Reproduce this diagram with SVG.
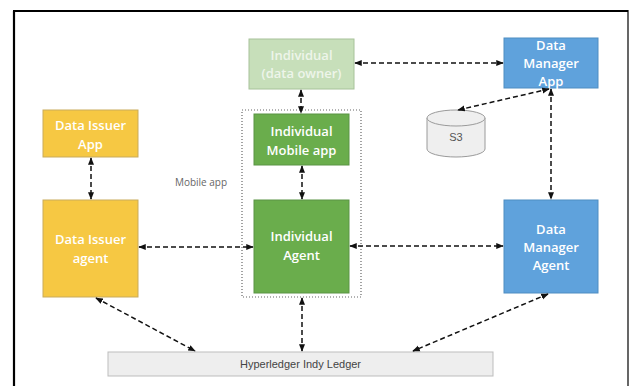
<svg xmlns="http://www.w3.org/2000/svg" width="629" height="386" viewBox="0 0 629 386">
  <defs>
    <marker id="ah" viewBox="0 0 10 10" refX="9" refY="5" markerWidth="5" markerHeight="5" orient="auto-start-reverse" markerUnits="strokeWidth">
      <path d="M0,1 L10,5 L0,9 z" fill="#111"/>
    </marker>
    <style>
      .frame { stroke: #000; fill: none; }
      .lbl { font-family: "Open Sans", "Liberation Sans", sans-serif; font-weight: 600; font-size: 13px; fill: #fff; text-anchor: middle; }
      .yellow { fill: #f6c843; stroke: #c9ab5c; stroke-width: 1; }
      .green { fill: #6aad4c; stroke: #5a9444; stroke-width: 1; }
      .pale { fill: #c7dfba; stroke: #a7c29a; stroke-width: 1; }
      .blue { fill: #5fa2dc; stroke: #4f8dc2; stroke-width: 1; }
      .conn line { stroke: #111; stroke-width: 1.5; stroke-dasharray: 5 3; marker-start: url(#ah); marker-end: url(#ah); fill: none; }
      .note { font-family: "Open Sans", "Liberation Sans", sans-serif; font-size: 10px; fill: #666; text-anchor: middle; }
    </style>
  </defs>

  <rect width="629" height="386" fill="#fff"/>

  <!-- page frame -->
  <line class="frame" x1="14" y1="11" x2="14" y2="386" stroke-width="2.2"/>
  <line class="frame" x1="13" y1="11" x2="628" y2="11" stroke-width="2"/>
  <line class="frame" x1="628" y1="10" x2="628" y2="386" stroke-width="1.2"/>

  <!-- mobile app boundary -->
  <g id="mobile-app-group">
    <rect x="242" y="110" width="119" height="187" fill="none" stroke="#666" stroke-width="1.2" stroke-dasharray="1 2"/>
    <text class="note" x="201" y="186">Mobile app</text>
  </g>

  <g id="data-owner">
    <rect class="pale" x="249" y="39" width="105" height="50"/>
    <text class="lbl" x="301.5" y="60" fill="#eef5ea" style="fill:#eef5ea">Individual</text>
    <text class="lbl" x="301.5" y="78" style="fill:#eef5ea">(data owner)</text>
  </g>

  <g id="data-manager-app">
    <rect class="blue" x="504" y="38" width="94" height="50"/>
    <text class="lbl" x="551" y="50">Data</text>
    <text class="lbl" x="551" y="68">Manager</text>
    <text class="lbl" x="551" y="86">App</text>
  </g>

  <g id="data-issuer-app">
    <rect class="yellow" x="43" y="110" width="95" height="47"/>
    <text class="lbl" x="90.5" y="130">Data Issuer</text>
    <text class="lbl" x="90.5" y="149">App</text>
  </g>

  <g id="individual-mobile-app">
    <rect class="green" x="254" y="114" width="95" height="51"/>
    <text class="lbl" x="301.5" y="136">Individual</text>
    <text class="lbl" x="301.5" y="155">Mobile app</text>
  </g>

  <g id="s3">
    <path d="M427,118 L427,149 A29,8 0 0 0 485,149 L485,118" fill="#efefef" stroke="#9a9a9a" stroke-width="1"/>
    <ellipse cx="456" cy="118" rx="29" ry="8" fill="#efefef" stroke="#9a9a9a" stroke-width="1"/>
    <text x="456" y="141" font-family="'Liberation Sans', Arial, sans-serif" font-size="11" fill="#555" text-anchor="middle">S3</text>
  </g>

  <g id="data-issuer-agent">
    <rect class="yellow" x="43" y="200" width="95" height="97"/>
    <text class="lbl" x="90.5" y="244">Data Issuer</text>
    <text class="lbl" x="90.5" y="263">agent</text>
  </g>

  <g id="individual-agent">
    <rect class="green" x="254" y="200" width="95" height="93"/>
    <text class="lbl" x="301.5" y="241">Individual</text>
    <text class="lbl" x="301.5" y="260">Agent</text>
  </g>

  <g id="data-manager-agent">
    <rect class="blue" x="504" y="200" width="94" height="93"/>
    <text class="lbl" x="551" y="234">Data</text>
    <text class="lbl" x="551" y="252">Manager</text>
    <text class="lbl" x="551" y="270">Agent</text>
  </g>

  <g id="ledger">
    <rect x="108" y="352" width="385" height="24" fill="#eeeeee" stroke="#bdbdbd" stroke-width="1"/>
    <text x="300.5" y="368" font-family="'Liberation Sans', Arial, sans-serif" font-size="11" fill="#444" text-anchor="middle">Hyperledger Indy Ledger</text>
  </g>

  <!-- connectors -->
  <g id="connectors" class="conn">
    <line x1="355" y1="63" x2="503" y2="63"/>
    <line x1="301" y1="90" x2="301" y2="113"/>
    <line x1="302" y1="166" x2="302" y2="199"/>
    <line x1="91" y1="158" x2="91" y2="199"/>
    <line x1="139" y1="247" x2="253" y2="247"/>
    <line x1="350" y1="246" x2="503" y2="246"/>
    <line x1="549" y1="89" x2="458" y2="110"/>
    <line x1="551" y1="89" x2="551" y2="199"/>
    <line x1="96" y1="298" x2="195" y2="351"/>
    <line x1="302" y1="298" x2="302" y2="351"/>
    <line x1="548" y1="294" x2="413" y2="351"/>
  </g>
</svg>
